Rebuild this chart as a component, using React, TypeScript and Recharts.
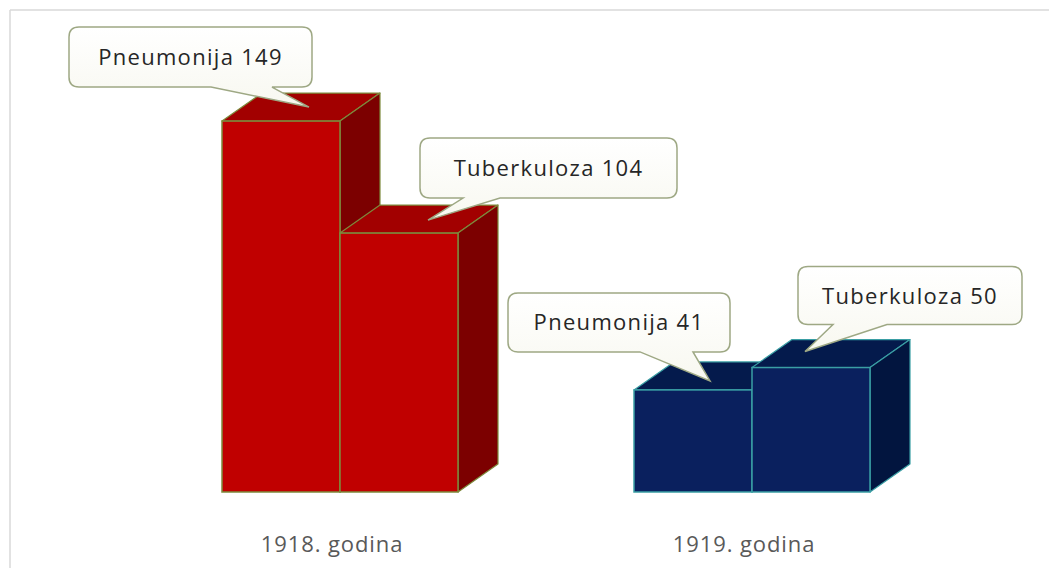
import { BarChart, Bar, XAxis, YAxis, LabelList } from 'recharts'

const categories = ['1918. godina', '1919. godina']
const pneumonija = [149, 41]
const tuberkuloza = [104, 50]

const data = categories.map((name, i) => ({
    name,
    Pneumonija: pneumonija[i],
    Tuberkuloza: tuberkuloza[i]
}))

// colours per year: front, top, side, edge
const PALETTE = [
    { front: '#c00000', top: '#a20000', side: '#7c0000', edge: '#7d8a3c' },
    { front: '#0a205e', top: '#041a4c', side: '#02153f', edge: '#3a9ea4' }
]

const DEPTH_X = 40
const DEPTH_Y = 28

// callout placement relative to the top-left corner of each bar's front face
const CALLOUTS: Record<string, { bx: number; by: number; w: number; h: number; tx: number; ty: number; b0: number; b1: number }[]> = {
    Pneumonija: [
        { bx: -153, by: -94, w: 243, h: 60, tx: 87, ty: -14, b0: -11, b1: 50 },
        { bx: -126, by: -97, w: 222, h: 59, tx: 76, ty: -9, b0: 6, b1: 59 }
    ],
    Tuberkuloza: [
        { bx: 80, by: -95, w: 257, h: 60, tx: 88, ty: -13, b0: 123, b1: 160 },
        { bx: 46, by: -101, w: 224, h: 58, tx: 53, ty: -16, b0: 81, b1: 135 }
    ]
}

function Box3D(props: any) {
    const { x, y, width, height, index } = props
    const c = PALETTE[index % PALETTE.length]
    const top = `M${x},${y} L${x + DEPTH_X},${y - DEPTH_Y} L${x + width + DEPTH_X},${y - DEPTH_Y} L${x + width},${y} Z`
    const side = `M${x + width},${y} L${x + width + DEPTH_X},${y - DEPTH_Y} L${x + width + DEPTH_X},${y + height - DEPTH_Y} L${x + width},${y + height} Z`
    return (
        <g>
            <path d={top} fill={c.top} stroke={c.edge} strokeWidth={1.2} strokeLinejoin="round" />
            <path d={side} fill={c.side} stroke={c.edge} strokeWidth={1.2} strokeLinejoin="round" />
            <rect x={x} y={y} width={width} height={height} fill={c.front} stroke={c.edge} strokeWidth={1.5} />
        </g>
    )
}

function makeCallout(series: string) {
    return (props: any) => {
        const vb = props.viewBox ?? props
        const x = vb.x ?? props.x
        const y = vb.y ?? props.y
        const c = CALLOUTS[series][props.index]
        if (!c || x == null || y == null) return null
        const left = x + c.bx
        const topY = y + c.by
        const right = left + c.w
        const bottom = topY + c.h
        const r = 10
        const d = [
            `M${left + r},${topY}`,
            `L${right - r},${topY}`,
            `Q${right},${topY} ${right},${topY + r}`,
            `L${right},${bottom - r}`,
            `Q${right},${bottom} ${right - r},${bottom}`,
            `L${x + c.b1},${bottom}`,
            `L${x + c.tx},${y + c.ty}`,
            `L${x + c.b0},${bottom}`,
            `L${left + r},${bottom}`,
            `Q${left},${bottom} ${left},${bottom - r}`,
            `L${left},${topY + r}`,
            `Q${left},${topY} ${left + r},${topY}`,
            'Z'
        ].join(' ')
        return (
            <g>
                <path d={d} fill="url(#calloutFill)" stroke="#9ea884" strokeWidth={1.5} />
                <text
                    x={left + c.w / 2}
                    y={topY + c.h / 2 + 8}
                    textAnchor="middle"
                    fontFamily="'Open Sans', sans-serif"
                    fontSize={22}
                    letterSpacing={1.3}
                    fill="#262626"
                >
                    {`${series} ${props.value}`}
                </text>
            </g>
        )
    }
}

function YearTick(props: any) {
    const { x, y, payload } = props
    return (
        <text
            x={x - 8}
            y={y + 52}
            textAnchor="middle"
            fontFamily="'Open Sans', sans-serif"
            fontSize={22}
            letterSpacing={0.9}
            fill="#595959"
        >
            {payload.value}
        </text>
    )
}

export default function App() {
    return (
        <div style={{ position: 'absolute', left: 0, top: 0, width: 1049, height: 568, background: '#fff' }}>
            <svg width={1049} height={568} style={{ position: 'absolute', left: 0, top: 0 }}>
                <line x1={10} y1={10} x2={1049} y2={10} stroke="#d9d9d9" strokeWidth={1.5} />
                <line x1={10} y1={10} x2={10} y2={568} stroke="#d9d9d9" strokeWidth={1.5} />
            </svg>
            <div style={{ position: 'absolute', left: 0, top: 0 }}>
                <BarChart
                    width={1049}
                    height={568}
                    data={data}
                    margin={{ top: 19, right: 91, bottom: 0, left: 134 }}
                    barGap={0}
                    barSize={118}
                >
                    <defs>
                        <linearGradient id="calloutFill" x1="0" y1="0" x2="0" y2="1">
                            <stop offset="0%" stopColor="#ffffff" />
                            <stop offset="100%" stopColor="#f8f8f0" />
                        </linearGradient>
                    </defs>
                    <XAxis
                        dataKey="name"
                        height={76}
                        axisLine={false}
                        tickLine={false}
                        tick={<YearTick />}
                        interval={0}
                    />
                    <YAxis hide domain={[0, 190]} width={0} />
                    <Bar dataKey="Pneumonija" shape={<Box3D />} isAnimationActive={false}>
                        <LabelList dataKey="Pneumonija" content={makeCallout('Pneumonija')} />
                    </Bar>
                    <Bar dataKey="Tuberkuloza" shape={<Box3D />} isAnimationActive={false}>
                        <LabelList dataKey="Tuberkuloza" content={makeCallout('Tuberkuloza')} />
                    </Bar>
                </BarChart>
            </div>
        </div>
    )
}
